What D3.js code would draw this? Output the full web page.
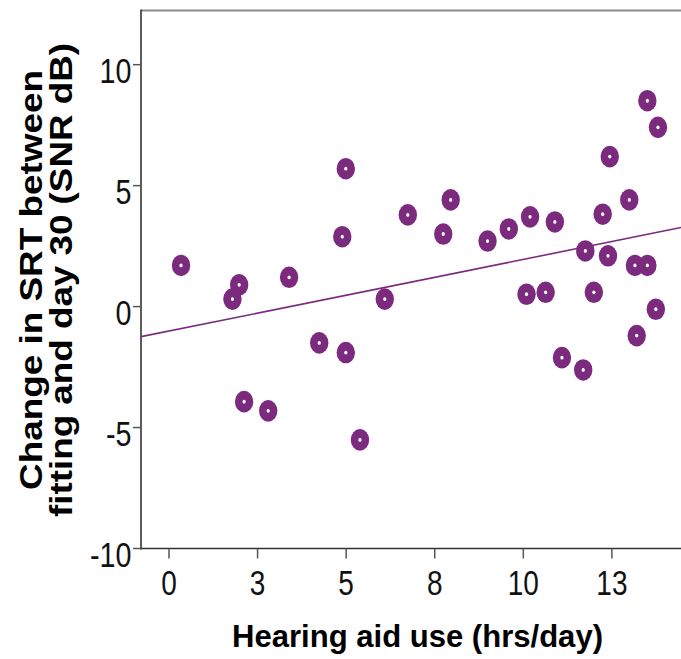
<!DOCTYPE html>
<html>
<head>
<meta charset="utf-8">
<script src="https://cdn.jsdelivr.net/npm/d3@7"></script>
<style>
  html, body { margin: 0; padding: 0; background: #fff; }
  svg { display: block; }
  text { font-family: "Liberation Sans", Arial, sans-serif; }
</style>
</head>
<body>
<script>
// ---- Data ----
const hoursUse = [0.34, 1.79, 1.98, 2.12, 2.80, 3.39, 4.24, 4.89, 4.99, 4.99, 5.39, 6.09,
  6.74, 7.74, 7.95, 8.99, 9.59, 10.19, 10.89, 10.09, 10.63, 11.09, 11.69, 11.75, 11.99,
  12.24, 12.39, 12.44, 12.99, 13.15, 13.50, 13.20, 13.74, 13.50, 13.80];
const srtChange = [1.70, 0.31, 0.90, -3.93, -4.31, 1.21, -1.50, 2.89, 5.70, -1.90, -5.51, 0.31,
  3.79, 3.00, 4.41, 2.71, 3.21, 3.71, 3.50, 0.51, 0.59, -2.11, -2.62, 2.30, 0.59,
  3.82, 2.10, 6.20, 4.41, 1.70, 1.70, -1.20, -0.11, 8.51, 7.41];
const fitLine = [-1.01, 0.296]; // intercept, slope
const xTickValues = [0, 2.5, 5, 7.5, 10, 12.5];
const xTickLabels = ["0", "3", "5", "8", "10", "13"];
const yTickValues = [-10, -5, 0, 5, 10];
const yTickLabels = ["-10", "-5", "0", "5", "10"];
const xTitle = "Hearing aid use (hrs/day)";
const yTitle = ["Change in SRT between", "fitting and day 30 (SNR dB)"];

// ---- Layout ----
const W = 681, H = 659;
const pLeft = 141, pRight = 681, pTop = 10.5, pBottom = 548.5;
const purple = "#7b2a7e";

const svg = d3.select("body").append("svg").attr("width", W).attr("height", H);
svg.append("rect").attr("width", W).attr("height", H).attr("fill", "#fff");

const x = d3.scaleLinear().domain([-0.79, 14.45]).range([pLeft, pRight]);
const y = d3.scaleLinear().domain([-10, 12.24]).range([pBottom, pTop]);

// clip
svg.append("defs").append("clipPath").attr("id", "plotclip")
  .append("rect").attr("x", pLeft).attr("y", pTop).attr("width", pRight - pLeft).attr("height", pBottom - pTop);

// top border
svg.append("line").attr("x1", pLeft).attr("x2", W).attr("y1", pTop).attr("y2", pTop)
  .attr("stroke", "#8a8a8a").attr("stroke-width", 2.2);

// Y axis
const yAxis = svg.append("g");
yAxis.append("line").attr("x1", pLeft).attr("x2", pLeft).attr("y1", pTop - 1).attr("y2", pBottom + 1)
  .attr("stroke", "#333").attr("stroke-width", 1.6);
yTickValues.forEach((v, i) => {
  yAxis.append("line").attr("x1", pLeft - 8).attr("x2", pLeft).attr("y1", y(v)).attr("y2", y(v))
    .attr("stroke", "#555").attr("stroke-width", 1.5);
  yAxis.append("g").attr("transform", `translate(${pLeft - 9.5},${y(v) + 18.5}) scale(0.82,1)`)
    .append("text").attr("text-anchor", "end").attr("font-size", 35).attr("fill", "#111")
    .text(yTickLabels[i]);
});

// X axis
const xAxis = svg.append("g");
xAxis.append("line").attr("x1", pLeft).attr("x2", W).attr("y1", pBottom).attr("y2", pBottom)
  .attr("stroke", "#333").attr("stroke-width", 1.6);
xTickValues.forEach((v, i) => {
  xAxis.append("line").attr("x1", x(v)).attr("x2", x(v)).attr("y1", pBottom).attr("y2", pBottom + 10)
    .attr("stroke", "#555").attr("stroke-width", 1.5);
  xAxis.append("g").attr("transform", `translate(${x(v)},595) scale(0.8,1)`)
    .append("text").attr("text-anchor", "middle").attr("font-size", 35).attr("fill", "#111")
    .text(xTickLabels[i]);
});

// regression line
const xd = x.domain();
svg.append("line").attr("clip-path", "url(#plotclip)")
  .attr("x1", x(xd[0])).attr("y1", y(fitLine[0] + fitLine[1] * xd[0]))
  .attr("x2", x(xd[1])).attr("y2", y(fitLine[0] + fitLine[1] * xd[1]))
  .attr("stroke", purple).attr("stroke-width", 1.6);

// points
const pts = hoursUse.map((h, i) => ({ h, s: srtChange[i] }));
const g = svg.append("g").attr("clip-path", "url(#plotclip)");
g.selectAll("ellipse.pt").data(pts).enter().append("ellipse").attr("class", "pt")
  .attr("cx", d => x(d.h)).attr("cy", d => y(d.s)).attr("rx", 9.2).attr("ry", 10.8)
  .attr("fill", purple);
g.selectAll("ellipse.dot").data(pts).enter().append("ellipse").attr("class", "dot")
  .attr("cx", d => x(d.h)).attr("cy", d => y(d.s)).attr("rx", 1.6).attr("ry", 1.9)
  .attr("fill", "#fff");

// titles
svg.append("text").attr("x", 417.5).attr("y", 647).attr("text-anchor", "middle")
  .attr("font-size", 32).attr("font-weight", "bold").attr("fill", "#000")
  .attr("textLength", 371).attr("lengthAdjust", "spacingAndGlyphs").text(xTitle);

const yLines = [{ t: yTitle[0], bx: 42, len: 420 }, { t: yTitle[1], bx: 72, len: 474 }];
yLines.forEach(l => {
  svg.append("text").attr("transform", `translate(${l.bx},280) rotate(-90)`)
    .attr("text-anchor", "middle").attr("font-size", 32).attr("font-weight", "bold").attr("fill", "#000")
    .attr("textLength", l.len).attr("lengthAdjust", "spacingAndGlyphs").text(l.t);
});
</script>
</body>
</html>
